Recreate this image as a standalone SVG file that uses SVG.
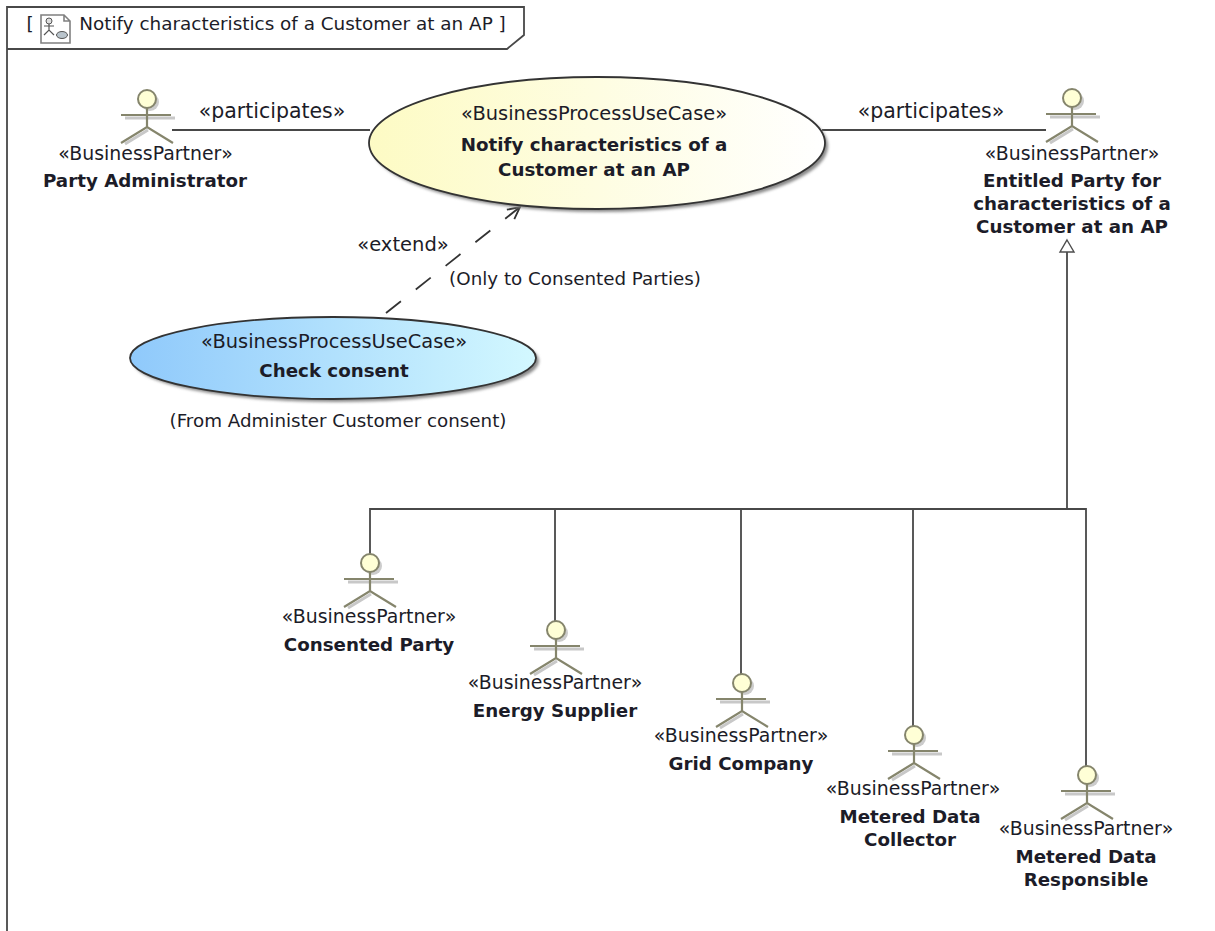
<svg xmlns="http://www.w3.org/2000/svg" width="1215" height="931" viewBox="0 0 1215 931">
<style>
text{font-family:"DejaVu Sans","Liberation Sans",sans-serif;fill:#1c1c28;text-anchor:middle}
.s{font-size:18.9px}
.u{font-size:19.4px}
.b{font-size:18.25px;font-weight:bold}
.l{font-size:20.5px}
.e{font-size:19.5px}
.n{font-size:18.3px}
.t{font-size:18.4px}
.ln{fill:none;stroke:#484848;stroke-width:1.8}
.arm{fill:none;stroke:#85856c;stroke-width:2.2}
.sh{fill:none;stroke:#c8c8c8;stroke-width:3}
.head{fill:#ffffd6;stroke:#85856c;stroke-width:2}
</style>
<defs>
<linearGradient id="yel" x1="0" x2="1" y1="0" y2="0"><stop offset="0" stop-color="#fdfbc4"/><stop offset="1" stop-color="#ffffff"/></linearGradient>
<linearGradient id="blu" x1="0" x2="1" y1="0" y2="0"><stop offset="0" stop-color="#8fc9fb"/><stop offset="1" stop-color="#d3f8ff"/></linearGradient>
<filter id="blur" x="-10%" y="-10%" width="120%" height="130%"><feGaussianBlur stdDeviation="1.5"/></filter>
<marker id="open" markerWidth="18" markerHeight="18" refX="14" refY="9" orient="auto" markerUnits="userSpaceOnUse"><path d="M2 3 L14 9 L2 15" fill="none" stroke="#333" stroke-width="1.8"/></marker>
<g id="actor">
<path class="sh" d="M-22 45 L1 31 M-22 19 H28"/>
<circle cx="3" cy="3" r="9" fill="#ccc"/>
<circle class="head" cx="0" cy="0" r="9"/>
<path class="arm" d="M0 9 V28 M-26 16 H24 M-26 44 L0 28 L26 44"/>
</g>
</defs>

<g id="frame">
<path class="ln" d="M7 931 V7 H524 V35 L507 49 H7"/>
<g id="frame-icon">
<path d="M41 15 H64 L70 21 V43 H41 Z M64 15 V21 H70" fill="#fff" stroke="#808080" stroke-width="1.6"/>
<circle cx="49" cy="21" r="3" fill="#ddd" stroke="#555"/>
<path d="M49 24 V30 M44 26 H54 M44 35 L49 30 L54 35" fill="none" stroke="#555" stroke-width="1.2"/>
<ellipse cx="62" cy="35" rx="5.500" ry="3.500" fill="#b9c4cc" stroke="#555"/>
</g>
<text class="t" x="30" y="30">[</text>
<text class="t" x="286" y="30">Notify characteristics of a Customer at an AP</text>
<text class="t" x="502" y="30">]</text>
</g>

<g id="connectors">
<path class="ln" d="M172 130 H370"/>
<path class="ln" d="M822 130 H1046"/>
<path d="M386 313 L520 207" fill="none" stroke="#333" stroke-width="1.8" stroke-dasharray="19 19" marker-end="url(#open)"/>
<path class="ln" d="M1067 508 V252"/>
<path d="M1067 240 L1074 252 H1060 Z" fill="#fff" stroke="#4d4d4d" stroke-width="1.4"/>
<path class="ln" d="M370 554 V509 H1086 V767 M555 509 V621 M741 509 V674 M913 509 V727"/>
<text class="l" x="272" y="118">«participates»</text>
<text class="l" x="931" y="118">«participates»</text>
<text class="e" x="403" y="251">«extend»</text>
<text class="n" x="575" y="285">(Only to Consented Parties)</text>
</g>

<g id="uc-notify">
<ellipse cx="600" cy="146" rx="228" ry="66" fill="#8a8a8a" filter="url(#blur)"/>
<ellipse cx="597" cy="143" rx="228" ry="66" fill="url(#yel)" stroke="#333" stroke-width="1.8"/>
<text class="u" x="594" y="120">«BusinessProcessUseCase»</text>
<text class="b" x="594" y="151">Notify characteristics of a</text>
<text class="b" x="594" y="176">Customer at an AP</text>
</g>

<g id="uc-check">
<ellipse cx="336" cy="361" rx="203" ry="41" fill="#8a8a8a" filter="url(#blur)"/>
<ellipse cx="333" cy="358" rx="203" ry="41" fill="url(#blu)" stroke="#333" stroke-width="1.8"/>
<text class="u" x="334" y="348">«BusinessProcessUseCase»</text>
<text class="b" x="334" y="377">Check consent</text>
<text class="n" x="338" y="427">(From Administer Customer consent)</text>
</g>

<g id="actor-party-admin">
<use href="#actor" x="147" y="99"/>
<text class="s" x="145.500" y="160">«BusinessPartner»</text>
<text class="b" x="145" y="187">Party Administrator</text>
</g>
<g id="actor-entitled">
<use href="#actor" x="1072" y="98"/>
<text class="s" x="1072" y="160">«BusinessPartner»</text>
<text class="b" x="1072" y="187">Entitled Party for</text>
<text class="b" x="1072" y="210">characteristics of a</text>
<text class="b" x="1072" y="233">Customer at an AP</text>
</g>
<g id="actor-consented">
<use href="#actor" x="370" y="563"/>
<text class="s" x="369" y="623">«BusinessPartner»</text>
<text class="b" x="369" y="651">Consented Party</text>
</g>
<g id="actor-energy">
<use href="#actor" x="556" y="630"/>
<text class="s" x="555" y="689">«BusinessPartner»</text>
<text class="b" x="555" y="717">Energy Supplier</text>
</g>
<g id="actor-grid">
<use href="#actor" x="742" y="683"/>
<text class="s" x="741" y="742">«BusinessPartner»</text>
<text class="b" x="741" y="770">Grid Company</text>
</g>
<g id="actor-mdc">
<use href="#actor" x="914" y="735"/>
<text class="s" x="913" y="795">«BusinessPartner»</text>
<text class="b" x="910" y="823">Metered Data</text>
<text class="b" x="910" y="846">Collector</text>
</g>
<g id="actor-mdr">
<use href="#actor" x="1087" y="775"/>
<text class="s" x="1086" y="835">«BusinessPartner»</text>
<text class="b" x="1086" y="863">Metered Data</text>
<text class="b" x="1086" y="886">Responsible</text>
</g>
</svg>
